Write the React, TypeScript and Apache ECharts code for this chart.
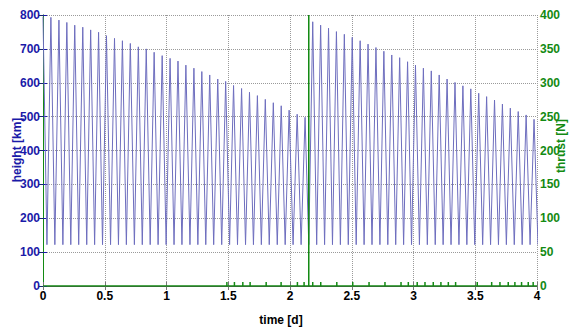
import React, { useEffect, useRef } from "react";
import * as echarts from "echarts";

// Apogee passes (time in days, height in km)
const apogeeTimes = [
  0, 0.064, 0.129, 0.193, 0.257, 0.322, 0.386, 0.45, 0.514, 0.579, 0.643, 0.707,
  0.772, 0.836, 0.9, 0.965, 1.029, 1.093, 1.157, 1.222, 1.286, 1.35, 1.415, 1.479,
  1.543, 1.608, 1.672, 1.736, 1.8, 1.865, 1.929, 1.993, 2.058, 2.122,
  2.184, 2.248, 2.312, 2.376, 2.44, 2.504, 2.568, 2.632, 2.696, 2.76, 2.824, 2.888,
  2.952, 3.016, 3.08, 3.144, 3.208, 3.272, 3.336, 3.4, 3.464, 3.528, 3.592, 3.656,
  3.72, 3.784, 3.848, 3.912, 3.976,
];
const apogeeHeights = [
  795, 793, 785, 778, 770, 764, 756, 749, 739, 731, 724, 716, 706, 700, 690, 680,
  672, 664, 652, 643, 633, 623, 611, 604, 592, 583, 572, 562, 551, 541, 532, 519,
  507, 498,
  780, 770, 761, 751, 743, 734, 724, 714, 704, 693, 682, 674, 662, 652, 643, 635,
  623, 611, 601, 591, 582, 569, 559, 549, 537, 525, 515, 505, 492,
];
// Perigee passes following each apogee
const perigeeTimes = [
  0.032, 0.096, 0.161, 0.225, 0.289, 0.354, 0.418, 0.482, 0.547, 0.611, 0.675, 0.74,
  0.804, 0.868, 0.932, 0.997, 1.061, 1.125, 1.19, 1.254, 1.318, 1.382, 1.447, 1.511,
  1.575, 1.64, 1.704, 1.768, 1.832, 1.897, 1.961, 2.025, 2.09, 2.152,
  2.216, 2.28, 2.344, 2.408, 2.472, 2.536, 2.6, 2.664, 2.728, 2.792, 2.856, 2.92,
  2.984, 3.048, 3.112, 3.176, 3.24, 3.304, 3.368, 3.432, 3.496, 3.56, 3.624, 3.688,
  3.752, 3.816, 3.88, 3.944, 4.008,
];
const perigeeHeight = 122;

// Thrust burns (time in days, thrust in N)
const burnTimes = [
  1.489, 1.55, 1.618, 1.677, 1.807, 1.928, 2.06, 2.114, 2.152, 2.184, 2.249, 2.379,
  2.508, 2.64, 2.769, 2.899, 2.958, 3.03, 3.093, 3.16, 3.222, 3.282, 3.341, 3.516,
  3.633, 3.7, 3.767, 3.821, 3.875, 3.929, 3.969,
];
const burnThrust = [
  6, 6, 6, 6, 6, 6, 6, 6, 400, 6, 6, 6,
  6, 6, 6, 6, 6, 6, 6, 6, 6, 6, 6, 6,
  6, 6, 6, 6, 6, 6, 6,
];

const xTicks = { min: 0, max: 4, interval: 0.5 };
const heightAxis = { min: 0, max: 800, interval: 100 };
const thrustAxis = { min: 0, max: 400, interval: 50 };

const BLUE = "#1a1aa8";
const GREEN = "#138a13";
const FONT = '"Liberation Sans Narrow", "Arial Narrow", "Liberation Sans", Arial, sans-serif';

export default function App() {
  const ref = useRef<HTMLDivElement>(null);
  useEffect(() => {
    if (!ref.current) return;
    const chart = echarts.init(ref.current, undefined, { renderer: "svg" });

    const heightData: number[][] = [];
    for (let i = 0; i < apogeeTimes.length; i++) {
      heightData.push([apogeeTimes[i], apogeeHeights[i]]);
      heightData.push([perigeeTimes[i], perigeeHeight]);
    }
    const thrustData: number[][] = [[xTicks.min, 0]];
    for (let i = 0; i < burnTimes.length; i++) {
      thrustData.push([burnTimes[i], 0], [burnTimes[i], burnThrust[i]], [burnTimes[i], 0]);
    }
    thrustData.push([xTicks.max, 0]);

    const labelBase = { fontFamily: FONT, fontWeight: "bold" as const, fontSize: 12 };

    chart.setOption({
      animation: false,
      backgroundColor: "#ffffff",
      grid: { left: 43, top: 15, width: 494, height: 271, containLabel: false },
      xAxis: [
        {
          type: "value",
          ...xTicks,
          position: "bottom",
          axisLine: { show: true, lineStyle: { color: "#333", width: 1 } },
          axisTick: { show: true, inside: true, length: 4, lineStyle: { color: "#777" } },
          axisLabel: { ...labelBase, color: "#000", margin: 4, formatter: (v: number) => String(v) },
          splitLine: { show: true, lineStyle: { type: "dotted", color: "#9a9a9a", width: 1 } },
        },
        {
          type: "value",
          ...xTicks,
          position: "top",
          axisLine: { show: true, lineStyle: { color: "#555", width: 1 } },
          axisTick: { show: true, inside: true, length: 4, lineStyle: { color: "#777" } },
          axisLabel: { show: false },
          splitLine: { show: false },
        },
      ],
      yAxis: [
        {
          type: "value",
          ...heightAxis,
          position: "left",
          axisLine: { show: true, lineStyle: { color: "#8080cc", width: 1 } },
          axisTick: { show: true, inside: true, length: 4, lineStyle: { color: BLUE } },
          axisLabel: { ...labelBase, color: BLUE, margin: 3 },
          splitLine: { show: true, lineStyle: { type: "dotted", color: "#9a9a9a", width: 1 } },
        },
        {
          type: "value",
          ...thrustAxis,
          position: "right",
          axisLine: { show: true, lineStyle: { color: GREEN, width: 1 } },
          axisTick: { show: true, inside: true, length: 4, lineStyle: { color: "#1a2a6a" } },
          axisLabel: { ...labelBase, color: GREEN, margin: 3 },
          splitLine: { show: false },
        },
      ],
      series: [
        {
          name: "height",
          type: "line",
          xAxisIndex: 0,
          yAxisIndex: 0,
          data: heightData,
          showSymbol: false,
          symbol: "none",
          lineStyle: { color: "#6e6ebe", width: 1 },
          z: 2,
        },
        {
          name: "thrust",
          type: "line",
          xAxisIndex: 0,
          yAxisIndex: 1,
          data: thrustData,
          showSymbol: false,
          symbol: "none",
          lineStyle: { color: GREEN, width: 1.5 },
          z: 3,
        },
      ],
      graphic: [
        {
          type: "text",
          x: 281,
          y: 320,
          style: { text: "time [d]", ...labelBase, fill: "#000", align: "center", verticalAlign: "middle" },
        },
        {
          type: "text",
          x: 17,
          y: 150,
          rotation: Math.PI / 2,
          style: { text: "height [km]", ...labelBase, fill: BLUE, align: "center", verticalAlign: "middle" },
        },
        {
          type: "text",
          x: 561,
          y: 146,
          rotation: Math.PI / 2,
          style: { text: "thrust [N]", ...labelBase, fill: GREEN, align: "center", verticalAlign: "middle" },
        },
      ],
    });
    return () => chart.dispose();
  }, []);

  return (
    <div
      ref={ref}
      style={{ position: "fixed", left: 0, top: 0, width: 572, height: 329, background: "#fff" }}
    />
  );
}
